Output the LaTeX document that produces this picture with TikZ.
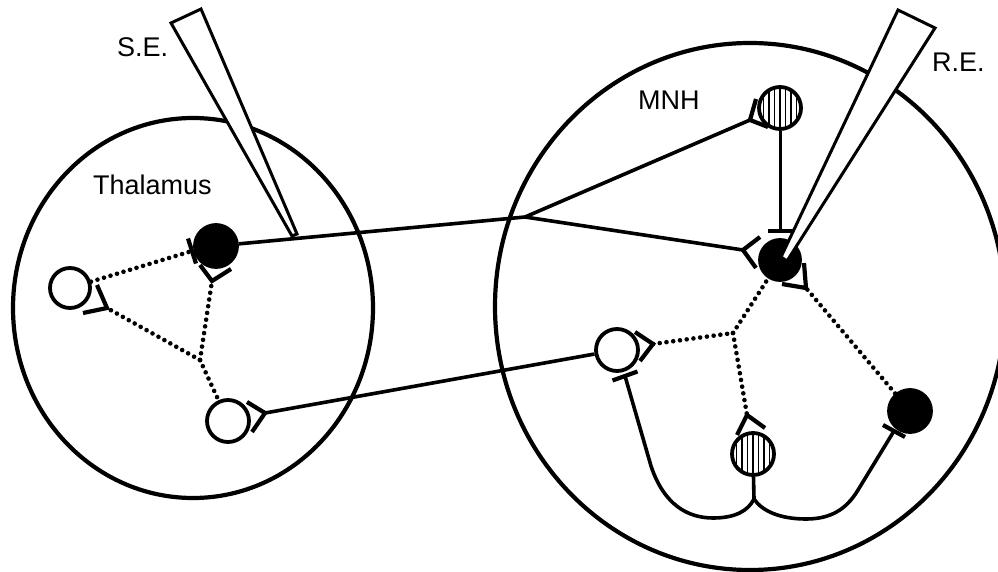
\documentclass[tikz,border=0pt]{standalone}
\usepackage{fontspec}
\setmainfont{Liberation Sans}
\usetikzlibrary{calc,shapes.geometric}

% excitatory ending: stem point, then the two prong offsets
\newcommand\synexc[3]{\draw[syn] (#1) ++(#2) -- (#1) -- ++(#3);}
% inhibitory ending: bar centred on the point, half-length vector
\newcommand\syninh[2]{\draw[syn] ($(#1)+(#2)$) -- ($(#1)-(#2)$);}

\begin{document}
\begin{tikzpicture}[x=1pt,y=-1pt,
  region/.style={ellipse,draw,line width=4.2pt,inner sep=0pt},
  cellopen/.style={circle,draw,line width=3.8pt,fill=white,minimum size=42pt,inner sep=0pt},
  cellblack/.style={cellopen,fill=black},
  cellhatch/.style={cellopen,path picture={
      \foreach \k in {-16.5,-11,...,16.5}{
        \draw[line width=1.8pt] ([xshift=\k pt]path picture bounding box.north)
          -- ([xshift=\k pt]path picture bounding box.south);}}},
  axon/.style={line width=3.6pt},
  gap/.style={line width=4.6pt,line cap=round,dash pattern=on 0pt off 6.8pt},
  syn/.style={line width=4.2pt},
  probe/.style={draw,fill=white,line width=3pt,line join=miter},
  lbl/.style={anchor=base west,inner sep=0pt,font=\fontsize{27}{30}\selectfont}
]
\useasboundingbox (0,0) rectangle (998,572);

% the two brain regions
\node[region,minimum width=360pt,minimum height=380pt] (thal) at (193,308) {};
\node[region,minimum width=510pt,minimum height=527pt] (mnh) at (750,306.5) {};

% thalamic cells
\node[cellblack] (B1) at (216,246) {};
\node[cellopen,minimum size=40pt] (O1) at (70,288) {};
\node[cellopen] (O2) at (228,421) {};

% MNH cells
\node[cellopen] (O3) at (617,350) {};
\node[cellhatch] (H1) at (780,108) {};
\node[cellblack,minimum size=40pt] (B2) at (780,260) {};
\node[cellhatch] (H2) at (753,454) {};
\node[cellblack] (B3) at (910,411) {};

% synaptic endings and branch points
\coordinate (br)   at (525,217);
\coordinate (sH1)  at (750,120);
\coordinate (sB2l) at (743,250);
\coordinate (tB2)  at (780,231);
\coordinate (sO2)  at (265,413);
\coordinate (tO3)  at (625,376);
\coordinate (hj)   at (754,499);
\coordinate (tB3)  at (894,431);
\coordinate (tB1)  at (192,251);
\coordinate (jT)   at (200,360);
\coordinate (sB1)  at (212,281);
\coordinate (sO1)  at (107,308);
\coordinate (sO3)  at (653,344);
\coordinate (jM)   at (733,333);
\coordinate (sH2)  at (747,415);
\coordinate (sB2r) at (806,288);

% long-range axons
\draw[axon] (B1) -- (br);
\draw[axon] (br) -- (sH1);
\draw[axon] (br) -- (sB2l);
\draw[axon,line width=3pt] (H1) -- (tB2);
\draw[axon] (O3) -- (sO2);
\draw[axon] (H2) -- (hj);
\draw[axon] (hj) .. controls (748,511) and (735,518) .. (713,518)
  .. controls (688,518) and (664,505) .. (651,466) -- (tO3);
\draw[axon] (hj) .. controls (762,511) and (780,519) .. (806,519)
  .. controls (830,519) and (846,510) .. (858,490) -- (tB3);

% local (dotted) connections
\draw[gap] (O1) -- (tB1);
\draw[gap] (jT) -- (sB1);
\draw[gap] (jT) -- (sO1);
\draw[gap] (jT) -- (O2);
\draw[gap] (sO3) -- (jM);
\draw[gap] (jM) -- (B2);
\draw[gap] (jM) -- (sH2);
\draw[gap] (B3) -- (sB2r);

% excitatory endings
\synexc{sH1}{6,-21}{18,7}
\synexc{sB2l}{17,-13}{13,18}
\synexc{sO2}{-18,-11}{-13,19}
\synexc{sB1}{-12,-16}{19,-12}
\synexc{sO1}{-10,-23}{-24,5}
\synexc{sO3}{-18,-12}{-13,17}
\synexc{sH2}{-10,20}{18,13}
\synexc{sB2r}{-2,-25}{-24,-4}

% inhibitory endings
\syninh{tB2}{12.5,0}
\syninh{tO3}{12.5,-4.5}
\syninh{tB3}{11,6}
\syninh{tB1}{4,12.5}

% recording and stimulating electrodes
\draw[probe] (171,23) -- (201,9) -- (297,234) -- (292,236) -- cycle;
\draw[probe] (898,10) -- (935,28) -- (787,261) -- (781,257) -- cycle;

% labels
\node[lbl] (lse) at (117,57) {S.E.};
\node[lbl] (lth) at (93,194) {Thalamus};
\node[lbl] (lmnh) at (638,110) {MNH};
\node[lbl] (lre) at (932,72) {R.E.};
\end{tikzpicture}
\end{document}
